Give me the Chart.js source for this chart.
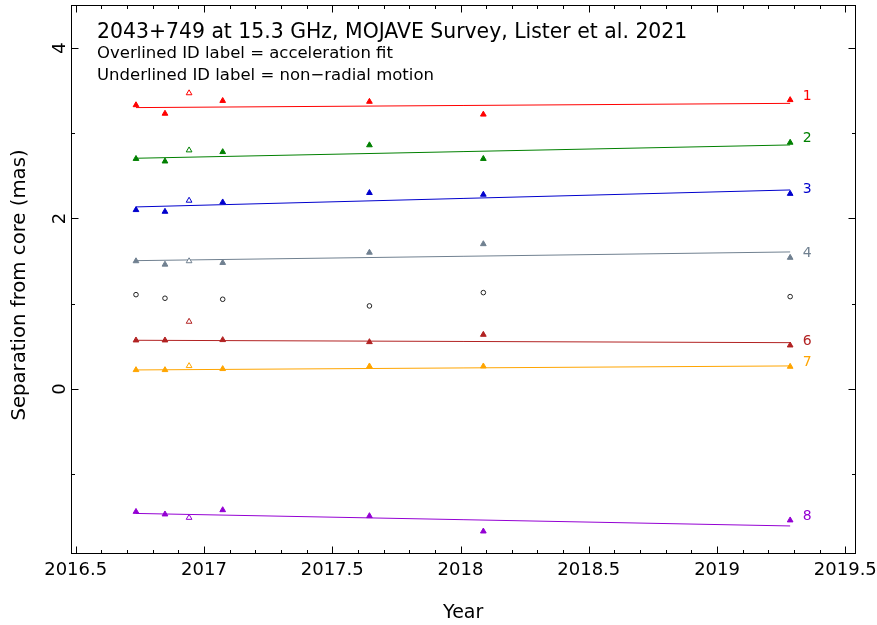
<!DOCTYPE html>
<html>
<head>
<meta charset="utf-8">
<script src="https://cdn.jsdelivr.net/npm/chart.js@4.4.1/dist/chart.umd.min.js"></script>
<style>
  html, body { margin: 0; padding: 0; background: #fff; }
  #wrap { width: 877px; height: 625px; }
</style>
</head>
<body>
<div id="wrap"><canvas id="c" width="877" height="625"></canvas></div>
<script>
// Observing epochs (decimal year)
const epochs = [2016.735, 2016.848, 2016.942, 2017.073, 2017.645, 2018.089, 2019.285];
// Epochs used in the kinematic fits (false = drawn as open symbol)
const usedInFit = [true, true, false, true, true, true, true];

// Separation from core (mas) per component, one value per epoch
const comp1 = [3.33, 3.23, 3.47, 3.38, 3.37, 3.22, 3.39];
const comp2 = [2.70, 2.67, 2.80, 2.78, 2.86, 2.70, 2.89];
const comp3 = [2.10, 2.08, 2.21, 2.19, 2.30, 2.28, 2.29];
const comp4 = [1.50, 1.46, 1.50, 1.48, 1.60, 1.70, 1.54];
const comp5 = [1.106, 1.064, null, 1.052, 0.974, 1.13, 1.083];
const comp6 = [0.571, 0.571, 0.79, 0.575, 0.551, 0.637, 0.512];
const comp7 = [0.223, 0.223, 0.27, 0.235, 0.266, 0.266, 0.262];
const comp8 = [-1.44, -1.47, -1.51, -1.42, -1.49, -1.67, -1.54];

// Linear fits: separation at first and last epoch
const fit1 = [3.30, 3.35];
const fit2 = [2.706, 2.862];
const fit3 = [2.135, 2.334];
const fit4 = [1.505, 1.607];
const fit6 = [0.571, 0.543];
const fit7 = [0.223, 0.270];
const fit8 = [-1.46, -1.607];

// Tick values
const xTicks = [2016.5, 2017, 2017.5, 2018, 2018.5, 2019, 2019.5];
const yTicks = [0, 2, 4];

const titleLines = [
  '2043+749 at 15.3 GHz, MOJAVE Survey, Lister et al. 2021',
  'Overlined ID label = acceleration fit',
  'Underlined ID label = non\u2212radial motion'
];
const yTitle = 'Separation from core (mas)';

const components = [
  { id: '1', vals: comp1, fit: fit1, color: '#ff0000' },
  { id: '2', vals: comp2, fit: fit2, color: '#008000' },
  { id: '3', vals: comp3, fit: fit3, color: '#0000cd' },
  { id: '4', vals: comp4, fit: fit4, color: '#708090' },
  { id: '6', vals: comp6, fit: fit6, color: '#b22222' },
  { id: '7', vals: comp7, fit: fit7, color: '#ffa500' },
  { id: '8', vals: comp8, fit: fit8, color: '#9400d3' }
];

const FONT = '"DejaVu Sans", sans-serif';

const datasets = [];
components.forEach(c => {
  datasets.push({
    type: 'scatter',
    label: c.id,
    data: epochs.map((x, i) => ({ x, y: c.vals[i] })),
    pointStyle: 'triangle',
    radius: 3.3,
    borderWidth: 1,
    borderColor: c.color,
    backgroundColor: ctx => usedInFit[ctx.dataIndex] ? c.color : '#ffffff',
    showLine: false
  });
  datasets.push({
    type: 'line',
    label: 'fit ' + c.id,
    data: [{ x: epochs[0], y: c.fit[0] }, { x: epochs[epochs.length - 1], y: c.fit[1] }],
    borderColor: c.color,
    borderWidth: 1,
    pointRadius: 0,
    fill: false
  });
});
datasets.push({
  type: 'scatter',
  label: '5',
  data: epochs.map((x, i) => ({ x, y: comp5[i] })).filter(p => p.y !== null),
  pointStyle: 'circle',
  radius: 2.3,
  borderWidth: 1,
  borderColor: '#222222',
  backgroundColor: '#ffffff'
});

// Frame, inward ticks, rotated y labels, component IDs and header text
const decorations = {
  id: 'decorations',
  afterDraw(chart) {
    const ctx = chart.ctx;
    const xs = chart.scales.x, ys = chart.scales.y;
    const a = chart.chartArea;
    const L = Math.round(a.left) + 0.5, R = Math.round(a.right) - 0.5;
    const T = Math.round(a.top) + 0.5, B = Math.round(a.bottom) - 0.5;
    ctx.save();
    ctx.strokeStyle = '#000';
    ctx.lineWidth = 1;
    ctx.strokeRect(L, T, R - L, B - T);

    ctx.beginPath();
    for (let k = 0; k <= 30; k++) {
      const v = 2016.5 + k * 0.1;
      const major = k % 5 === 0;
      const len = major ? 7 : 3.5;
      const px = Math.round(xs.getPixelForValue(v)) + 0.5;
      ctx.moveTo(px, B); ctx.lineTo(px, B - len);
      ctx.moveTo(px, T); ctx.lineTo(px, T + len);
    }
    for (let v = -1; v <= 4; v++) {
      const major = v % 2 === 0;
      const len = major ? 7 : 3.5;
      const py = Math.round(ys.getPixelForValue(v)) + 0.5;
      ctx.moveTo(L, py); ctx.lineTo(L + len, py);
      ctx.moveTo(R, py); ctx.lineTo(R - len, py);
    }
    ctx.stroke();

    // y tick labels, rotated
    ctx.fillStyle = '#000';
    ctx.font = '18px ' + FONT;
    ctx.textAlign = 'center';
    ctx.textBaseline = 'middle';
    ys.ticks.forEach(t => {
      const py = ys.getPixelForValue(t.value);
      ctx.save();
      ctx.translate(60, py);
      ctx.rotate(-Math.PI / 2);
      ctx.fillText(String(t.value), 0, 0);
      ctx.restore();
    });

    // y axis title
    ctx.save();
    ctx.font = '19.7px ' + FONT;
    ctx.translate(20, 285);
    ctx.rotate(-Math.PI / 2);
    ctx.fillText(yTitle, 0, 0);
    ctx.restore();

    // component IDs next to the last epoch
    ctx.font = '14px ' + FONT;
    components.forEach(c => {
      const last = c.vals.length - 1;
      const px = xs.getPixelForValue(epochs[last]) + 17;
      const py = ys.getPixelForValue(c.vals[last]) - 4;
      ctx.fillStyle = c.color;
      ctx.fillText(c.id, px, py);
    });

    // header text
    ctx.fillStyle = '#000';
    ctx.textAlign = 'left';
    ctx.textBaseline = 'alphabetic';
    ctx.font = '20.4px ' + FONT;
    ctx.fillText(titleLines[0], 97, 38);
    ctx.font = '16.5px ' + FONT;
    ctx.fillText(titleLines[1], 97, 58);
    ctx.fillText(titleLines[2], 97, 80);
    ctx.restore();
  }
};

new Chart(document.getElementById('c'), {
  data: { datasets },
  options: {
    responsive: false,
    animation: false,
    devicePixelRatio: 1,
    layout: { padding: { left: 0, right: 21.3, top: 5.3, bottom: 0 } },
    plugins: { legend: { display: false }, tooltip: { enabled: false } },
    scales: {
      x: {
        type: 'linear',
        min: 2016.4805,
        max: 2019.5405,
        afterBuildTicks: s => { s.ticks = xTicks.map(v => ({ value: v })); },
        afterFit: s => { s.height = 71.5; s.paddingLeft = 0; s.paddingRight = 0; },
        grid: { display: false, drawTicks: false },
        border: { display: false },
        ticks: {
          color: '#000',
          font: { family: FONT, size: 18 },
          padding: 6,
          maxRotation: 0,
          autoSkip: false,
          callback: v => String(v)
        },
        title: {
          display: true,
          text: 'Year',
          color: '#000',
          font: { family: FONT, size: 19 },
          padding: { top: 0, bottom: 0.6 }
        }
      },
      y: {
        type: 'linear',
        min: -1.93,
        max: 4.5,
        afterBuildTicks: s => { s.ticks = yTicks.map(v => ({ value: v })); },
        afterFit: s => { s.width = 70.7; s.paddingTop = 0; s.paddingBottom = 0; },
        grid: { display: false, drawTicks: false },
        border: { display: false },
        ticks: { display: false },
        title: { display: false }
      }
    }
  },
  plugins: [decorations]
});
</script>
</body>
</html>
